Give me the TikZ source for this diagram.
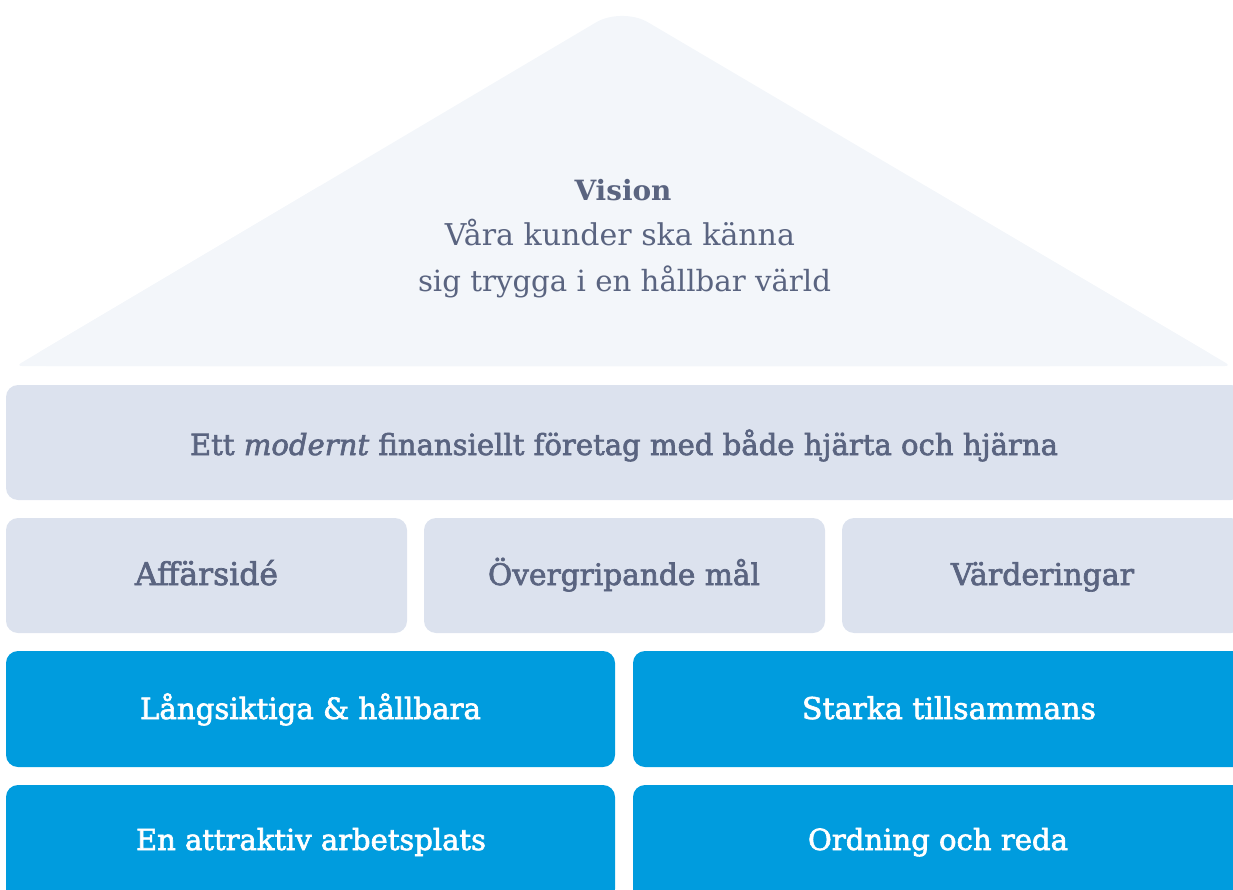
\documentclass[tikz,border=0pt]{standalone}
\usepackage{graphicx}
\usepackage{fontspec}
\setmainfont{DejaVu Serif}
\newfontfamily\medfont[FakeBold=2.2]{DejaVu Serif}
\newfontfamily\boldfont{DejaVu Serif Bold}
\definecolor{roofcol}{HTML}{F3F6FA}
\definecolor{bandcol}{HTML}{DCE2EE}
\definecolor{bluecol}{HTML}{009CDE}
\definecolor{txtcol}{HTML}{5A6480}
\newcommand{\fitw}[2]{\resizebox{#1pt}{!}{#2}}
\tikzset{
  greybox/.style={rectangle, rounded corners=12pt, fill=bandcol, inner sep=0pt, outer sep=0pt},
  bluebox/.style={rectangle, rounded corners=12pt, fill=bluecol, inner sep=0pt, outer sep=0pt},
  lbl/.style={anchor=base, inner sep=0pt, text=txtcol, font=\fontsize{20}{24}\selectfont},
  wlbl/.style={anchor=base, inner sep=0pt, text=white, font=\fontsize{20}{24}\selectfont},
}
\begin{document}
\begin{tikzpicture}[x=1pt,y=-1pt]
\useasboundingbox (0,0) rectangle (1233,890);
\clip (0,0) rectangle (1233,890);
% roof
\fill[roofcol, rounded corners=6pt] (319,186.5) -- (16,366) -- (1231,366) -- (926,186.5);
\fill[roofcol, rounded corners=30pt] (16,366) -- (622,7) -- (1231,366) -- cycle;
\fill[roofcol] (200,366) -- (622,110) -- (1050,366) -- cycle;
\node[lbl] (vis) at (623,201) {\fitw{97}{\boldfont Vision}};
\node[lbl] (vis1) at (620,246) {\fitw{350}{Våra kunder ska känna}};
\node[lbl] (vis2) at (624.5,292) {\fitw{413}{sig trygga i en hållbar värld}};
% band
\node[greybox, minimum width=1237pt, minimum height=115pt] (band) at (624.5,442.5) {};
\node[lbl] (bandt) at (624,455) {\fitw{868}{\medfont Ett \itshape modernt\upshape\ finansiellt företag med både hjärta och hjärna}};
% row 2
\node[greybox, minimum width=401pt, minimum height=115pt] (b21) at (206.5,575.5) {};
\node[greybox, minimum width=401pt, minimum height=115pt] (b22) at (624.5,575.5) {};
\node[greybox, minimum width=401pt, minimum height=115pt] (b23) at (1042.5,575.5) {};
\node[lbl] (t21) at (206.5,585) {\fitw{143}{\medfont Affärsidé}};
\node[lbl] (t22) at (624,585) {\fitw{272}{\medfont Övergripande mål}};
\node[lbl] (t23) at (1042.5,585) {\fitw{183}{\medfont Värderingar}};
% row 3
\node[bluebox, minimum width=609pt, minimum height=116pt] (b31) at (310.5,709) {};
\node[bluebox, minimum width=640pt, minimum height=116pt] (b32) at (953,709) {};
\node[wlbl] (t31) at (310.5,719) {\fitw{341}{\medfont Långsiktiga \& hållbara}};
\node[wlbl] (t32) at (949,719) {\fitw{294}{\medfont Starka tillsammans}};
% row 4
\node[bluebox, minimum width=609pt, minimum height=116pt] (b41) at (310.5,843) {};
\node[bluebox, minimum width=640pt, minimum height=116pt] (b42) at (953,843) {};
\node[wlbl] (t41) at (311,850) {\fitw{350}{\medfont En attraktiv arbetsplats}};
\node[wlbl] (t42) at (938,850) {\fitw{260}{\medfont Ordning och reda}};
\end{tikzpicture}
\end{document}
